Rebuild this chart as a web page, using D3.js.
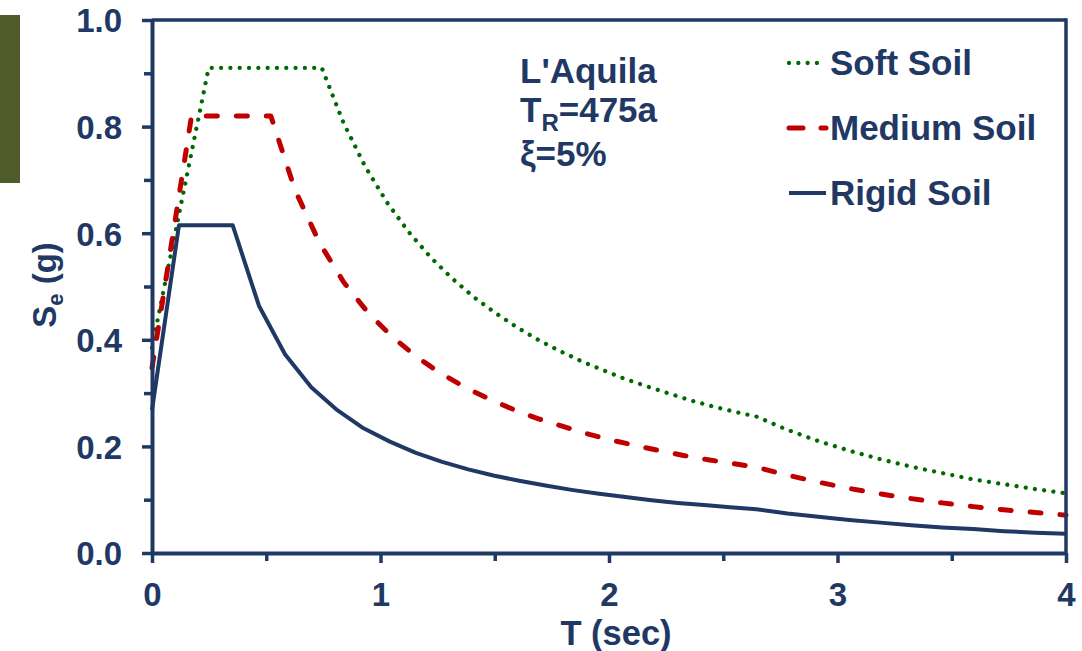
<!DOCTYPE html>
<html>
<head>
<meta charset="utf-8">
<script src="https://cdn.jsdelivr.net/npm/d3@7"></script>
<style>
  html, body { margin: 0; padding: 0; background: #ffffff; }
  svg { display: block; }
  text { font-family: "Liberation Sans", Arial, sans-serif; font-weight: bold; fill: #1f3864; }
</style>
</head>
<body>
<svg id="chart" width="1082" height="651"></svg>
<script>
// ---------- data ----------
const softT = [0, 0.248, 0.743, 0.838, 0.933, 1.028, 1.124, 1.219, 1.314, 1.409, 1.504, 1.599, 1.694, 1.789, 1.884, 1.979, 2.074, 2.170, 2.265, 2.360, 2.455, 2.550, 2.645, 2.781, 2.916, 3.052, 3.187, 3.323, 3.458, 3.594, 3.729, 3.865, 4.000];
const softSe = [0.385, 0.910, 0.910, 0.807, 0.725, 0.658, 0.602, 0.555, 0.515, 0.480, 0.450, 0.423, 0.399, 0.378, 0.359, 0.342, 0.326, 0.312, 0.299, 0.286, 0.275, 0.265, 0.256, 0.231, 0.210, 0.192, 0.176, 0.162, 0.150, 0.138, 0.129, 0.120, 0.112];

const mediumT = [0, 0.173, 0.520, 0.626, 0.733, 0.839, 0.945, 1.051, 1.158, 1.264, 1.370, 1.476, 1.583, 1.689, 1.795, 1.901, 2.008, 2.114, 2.220, 2.326, 2.433, 2.539, 2.645, 2.781, 2.916, 3.052, 3.187, 3.323, 3.458, 3.594, 3.729, 3.865, 4.000];
const mediumSe = [0.347, 0.820, 0.820, 0.681, 0.582, 0.508, 0.451, 0.406, 0.368, 0.337, 0.311, 0.289, 0.269, 0.252, 0.238, 0.224, 0.212, 0.202, 0.192, 0.183, 0.175, 0.168, 0.161, 0.146, 0.133, 0.121, 0.111, 0.102, 0.094, 0.087, 0.081, 0.076, 0.071];

const rigidT = [0, 0.118, 0.353, 0.468, 0.582, 0.697, 0.811, 0.926, 1.041, 1.155, 1.270, 1.384, 1.499, 1.613, 1.728, 1.843, 1.957, 2.072, 2.186, 2.301, 2.416, 2.530, 2.645, 2.781, 2.916, 3.052, 3.187, 3.323, 3.458, 3.594, 3.729, 3.865, 4.000];
const rigidSe = [0.268, 0.615, 0.615, 0.464, 0.373, 0.311, 0.268, 0.234, 0.209, 0.188, 0.171, 0.157, 0.145, 0.135, 0.126, 0.118, 0.111, 0.105, 0.099, 0.094, 0.090, 0.086, 0.082, 0.074, 0.068, 0.062, 0.057, 0.052, 0.048, 0.045, 0.041, 0.038, 0.036];

const seriesNames = ["Soft Soil", "Medium Soil", "Rigid Soil"];
const xTickValues = [0, 1, 2, 3, 4];
const xMinorTicks = [0.5, 1.5, 2.5, 3.5];
const yTickValues = [0, 0.2, 0.4, 0.6, 0.8, 1.0];
const yMinorTicks = [0.1, 0.3, 0.5, 0.7, 0.9];
const annotationLines = ["L'Aquila", "T", "R", "=475a", "ξ=5%"];
const xTitle = "T (sec)";
const yTitleMain = "S", yTitleSub = "e", yTitleRest = " (g)";

// ---------- drawing ----------
const navy = "#1f3864";
const svg = d3.select("#chart");

const x = d3.scaleLinear().domain([0, 4]).range([152, 1066]);
const y = d3.scaleLinear().domain([0, 1]).range([553, 20]);

// side decoration bar
svg.append("rect").attr("x", 0).attr("y", 15).attr("width", 20).attr("height", 168).attr("fill", "#4f5b2a");

const series = [
  { name: seriesNames[0], T: softT, Se: softSe, color: "#006a00", width: 4.3, dash: "0.01 9.3", cap: "round" },
  { name: seriesNames[1], T: mediumT, Se: mediumSe, color: "#c00000", width: 5, dash: "11 19", cap: "round" },
  { name: seriesNames[2], T: rigidT, Se: rigidSe, color: navy, width: 4, dash: null, cap: "butt" }
];

const line = d3.line().x(d => x(d[0])).y(d => y(d[1]));

series.forEach(s => {
  const pts = s.T.map((t, i) => [t, s.Se[i]]);
  svg.append("path")
    .datum(pts)
    .attr("d", line)
    .attr("fill", "none")
    .attr("stroke", s.color)
    .attr("stroke-width", s.width)
    .attr("stroke-linecap", s.cap)
    .attr("stroke-linejoin", "round")
    .attr("stroke-dasharray", s.dash);
});

// frame (top and right)
svg.append("line").attr("x1", x(0)).attr("x2", x(4)).attr("y1", y(1)).attr("y2", y(1))
  .attr("stroke", navy).attr("stroke-width", 3.5);
svg.append("line").attr("x1", x(4)).attr("x2", x(4)).attr("y1", y(1) - 1.75).attr("y2", y(0))
  .attr("stroke", navy).attr("stroke-width", 3.5);

// axes
function styleAxis(g) {
  g.select(".domain").attr("stroke", navy).attr("stroke-width", 4);
  g.selectAll(".tick line").attr("stroke", navy).attr("stroke-width", 3.5);
  g.selectAll(".tick text").attr("fill", navy)
    .style("font-family", "'Liberation Sans', Arial, sans-serif")
    .style("font-weight", "bold").style("font-size", "33px");
}

const yAxis = svg.append("g").attr("transform", `translate(${x(0)},0)`)
  .call(d3.axisLeft(y).tickValues(yTickValues).tickFormat(d3.format(".1f")).tickSize(10).tickSizeOuter(0).tickPadding(20));
styleAxis(yAxis);
yAxis.selectAll(".tick text").attr("dy", "0.36em");

const yMinor = svg.append("g").attr("transform", `translate(${x(0)},0)`)
  .call(d3.axisLeft(y).tickValues(yMinorTicks).tickFormat("").tickSize(8).tickSizeOuter(0));
yMinor.select(".domain").remove();
yMinor.selectAll(".tick line").attr("stroke", navy).attr("stroke-width", 3.5);

const xAxis = svg.append("g").attr("transform", `translate(0,${y(0)})`)
  .call(d3.axisBottom(x).tickValues(xTickValues).tickFormat(d3.format("d")).tickSize(10).tickSizeOuter(0).tickPadding(20));
styleAxis(xAxis);
xAxis.selectAll(".tick text").attr("dy", "0.71em");

const xMinor = svg.append("g").attr("transform", `translate(0,${y(0)})`)
  .call(d3.axisBottom(x).tickValues(xMinorTicks).tickFormat("").tickSize(8).tickSizeOuter(0));
xMinor.select(".domain").remove();
xMinor.selectAll(".tick line").attr("stroke", navy).attr("stroke-width", 3.5);

// axis titles
svg.append("text").attr("x", 616).attr("y", 645).attr("text-anchor", "middle")
  .style("font-size", "34.5px").text(xTitle);

const yt = svg.append("text").attr("transform", "translate(56,285) rotate(-90)")
  .attr("text-anchor", "middle").style("font-size", "33px");
yt.append("tspan").text(yTitleMain);
yt.append("tspan").attr("dy", 7).style("font-size", "22px").text(yTitleSub);
yt.append("tspan").attr("dy", -7).text(yTitleRest);

// annotation
svg.append("text").attr("x", 520).attr("y", 83).style("font-size", "35px").text(annotationLines[0]);
const tr = svg.append("text").attr("x", 520).attr("y", 122).style("font-size", "35px");
tr.append("tspan").text(annotationLines[1]);
tr.append("tspan").attr("dy", 9).style("font-size", "24px").text(annotationLines[2]);
tr.append("tspan").attr("dy", -9).text(annotationLines[3]);
svg.append("text").attr("x", 520).attr("y", 166).style("font-size", "35px").text(annotationLines[4]);

// legend
const legendY = [63, 128, 193];
series.forEach((s, i) => {
  svg.append("line").attr("x1", 789).attr("x2", 826).attr("y1", legendY[i]).attr("y2", legendY[i])
    .attr("stroke", s.color).attr("stroke-width", s.width)
    .attr("stroke-linecap", s.cap)
    .attr("stroke-dasharray", s.dash ? (i === 1 ? "14 18" : s.dash) : null);
  svg.append("text").attr("x", 830).attr("y", legendY[i] + 12)
    .style("font-size", "35px").text(s.name);
});
</script>
</body>
</html>
